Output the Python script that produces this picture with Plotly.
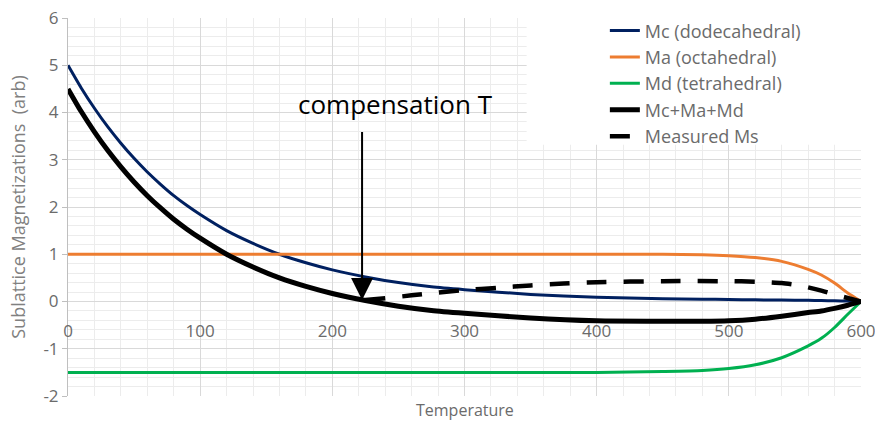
import plotly.graph_objects as go

# ---- data ----
temperature = [0, 10, 20, 30, 40, 50, 60, 70, 80, 90, 100, 120, 140, 160, 180, 200,
               225, 250, 275, 300, 350, 400, 450, 480, 500, 520, 540, 560, 570, 580, 590, 600]
mc_dodecahedral = [5.00, 4.52, 4.09, 3.70, 3.35, 3.03, 2.74, 2.48, 2.24, 2.03, 1.84, 1.50, 1.23, 1.00, 0.82, 0.67,
                   0.52, 0.40, 0.31, 0.25, 0.15, 0.09, 0.06, 0.05, 0.04, 0.035, 0.03, 0.025, 0.02, 0.015, 0.01, 0.0]
ma_octahedral = [1.00, 1.00, 1.00, 1.00, 1.00, 1.00, 1.00, 1.00, 1.00, 1.00, 1.00, 1.00, 1.00, 1.00, 1.00, 1.00,
                 1.00, 1.00, 1.00, 1.00, 1.00, 1.00, 1.00, 0.99, 0.97, 0.93, 0.85, 0.68, 0.56, 0.39, 0.18, 0.0]
md_tetrahedral = [-1.50, -1.50, -1.50, -1.50, -1.50, -1.50, -1.50, -1.50, -1.50, -1.50, -1.50, -1.50, -1.50, -1.50, -1.50, -1.50,
                  -1.50, -1.50, -1.50, -1.50, -1.50, -1.50, -1.48, -1.46, -1.42, -1.34, -1.19, -0.94, -0.78, -0.55, -0.27, 0.0]

measured_t = [225, 240, 260, 280, 300, 325, 350, 375, 400, 450, 500, 520, 540, 555, 570, 585, 600]
measured_ms = [0.03, 0.07, 0.13, 0.19, 0.24, 0.29, 0.34, 0.38, 0.41, 0.43, 0.43, 0.42, 0.39, 0.33, 0.23, 0.11, 0.0]

total = [c + a + d for c, a, d in zip(mc_dodecahedral, ma_octahedral, md_tetrahedral)]

compensation_t = 222.5

x_ticks = [0, 100, 200, 300, 400, 500, 600]
x_tick_labels = ["0", "100", "200", "300", "400", "500", "600"]
y_ticks = [-2, -1, 0, 1, 2, 3, 4, 5, 6]
y_tick_labels = ["-2", "-1", "0", "1", "2", "3", "4", "5", "6"]

GREY = "#6b6b6b"
FONT = "Open Sans"

fig = go.Figure()
fig.add_trace(go.Scatter(x=temperature, y=mc_dodecahedral, mode="lines", name="Mc (dodecahedral)",
                         line=dict(color="#002060", width=3, shape="spline", smoothing=0.6)))
fig.add_trace(go.Scatter(x=temperature, y=ma_octahedral, mode="lines", name="Ma (octahedral)",
                         line=dict(color="#ED7D31", width=3, shape="spline", smoothing=0.6)))
fig.add_trace(go.Scatter(x=temperature, y=md_tetrahedral, mode="lines", name="Md (tetrahedral)",
                         line=dict(color="#00B050", width=3, shape="spline", smoothing=0.6)))
fig.add_trace(go.Scatter(x=temperature, y=total, mode="lines", name="Mc+Ma+Md",
                         line=dict(color="#000000", width=5, shape="spline", smoothing=0.6)))
fig.add_trace(go.Scatter(x=measured_t, y=measured_ms, mode="lines", name="Measured Ms",
                         line=dict(color="#000000", width=4.5, dash="20px,17px", shape="spline", smoothing=0.6)))

# white box behind legend (hides gridlines like the reference)
fig.add_shape(type="rect", xref="x", yref="y", x0=347, x1=600, y0=3.32, y1=6,
              fillcolor="white", line=dict(width=0), layer="between")

# arrow marking the compensation temperature
fig.add_annotation(x=compensation_t, y=0.03, ax=compensation_t, ay=3.62, xref="x", yref="y",
                   axref="x", ayref="y", text="", showarrow=True, arrowhead=2, arrowsize=2.2,
                   arrowwidth=2, arrowcolor="#000000")
fig.add_annotation(x=248, y=4.17, xref="x", yref="y", text="compensation T", showarrow=False,
                   font=dict(family=FONT, size=26, color="#000000"))
# x-axis title
fig.add_annotation(x=0.5, y=-0.037, xref="paper", yref="paper", text="Temperature", showarrow=False,
                   yanchor="middle", font=dict(family=FONT, size=16, color=GREY))

fig.update_layout(
    width=875, height=421,
    margin=dict(l=68, r=14, t=18, b=25, autoexpand=False),
    paper_bgcolor="white", plot_bgcolor="white",
    font=dict(family=FONT, color=GREY),
    legend=dict(x=0.677, y=1.015, xanchor="left", yanchor="top", bgcolor="rgba(0,0,0,0)",
                font=dict(family=FONT, size=18, color=GREY), tracegroupgap=0),
    xaxis=dict(range=[0, 600], tickvals=x_ticks, ticktext=x_tick_labels, anchor="free", position=0.25,
               showgrid=True, gridcolor="#d9d9d9", gridwidth=1,
               minor=dict(dtick=20, showgrid=True, gridcolor="#ececec", gridwidth=1),
               showline=False, zeroline=False, ticks="", ticklabelstandoff=17,
               ticklabeloverflow="allow",
               tickfont=dict(family=FONT, size=17, color=GREY)),
    yaxis=dict(range=[-2, 6], tickvals=y_ticks, ticktext=y_tick_labels, domain=[0, 1],
               showgrid=True, gridcolor="#d9d9d9", gridwidth=1,
               minor=dict(dtick=0.2, showgrid=True, gridcolor="#ececec", gridwidth=1),
               showline=True, linecolor="#bfbfbf", linewidth=1,
               ticks="outside", ticklen=5, tickcolor="#bfbfbf",
               zeroline=True, zerolinecolor="#d9d9d9", zerolinewidth=1,
               ticklabeloverflow="allow",
               tickfont=dict(family=FONT, size=17, color=GREY),
               title=dict(text="Sublattice Magnetizations\u00a0 (arb)", standoff=13,
                          font=dict(family=FONT, size=18, color="#808080"))),
)

# remove the page's default 8px body margin so the figure fills the 875x421 window
fig.write_html("out.html", config={"displayModeBar": False},
               post_script="document.body.style.margin='0';")
